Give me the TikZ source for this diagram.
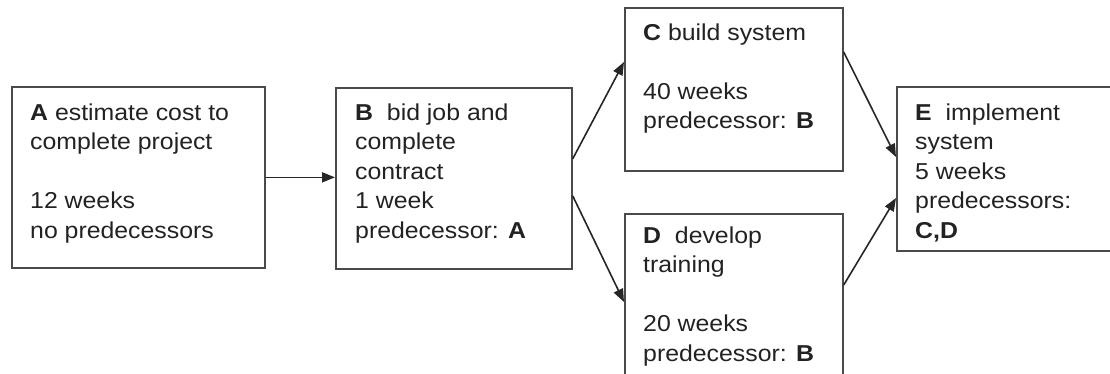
\documentclass[tikz,border=0pt]{standalone}
\usepackage{fontspec}
\setmainfont{Liberation Sans}[FakeStretch=1.08]
\usetikzlibrary{arrows.meta}
\definecolor{boxline}{HTML}{4A4A4A}
\definecolor{txt}{HTML}{222222}
\tikzset{
  box/.style={draw=boxline, line width=1.7pt, rectangle, inner sep=0pt, anchor=north west},
  lbl/.style={anchor=north west, inner sep=0pt, align=left, text=txt,
    font=\fontsize{23pt}{29.5pt}\selectfont},
  arr/.style={draw=black!85, line width=1.6pt, -{Triangle[length=13pt,width=10pt]}}
}
\begin{document}
\begin{tikzpicture}[x=1pt,y=-1pt]
\useasboundingbox (0,0) rectangle (1110,374);
\clip (0,0) rectangle (1110,374);
\node[box, minimum width=253pt, minimum height=181pt] (A) at (11,86) {};
\node[box, minimum width=236pt, minimum height=181pt] (B) at (335,87) {};
\node[box, minimum width=218pt, minimum height=163pt] (C) at (624,7) {};
\node[box, minimum width=218pt, minimum height=200pt] (D) at (624,213) {};
\node[box, minimum width=300pt, minimum height=164pt] (E) at (896,86) {};

\node[lbl] (At) at (30,103.5) {\textbf{A} estimate cost to\\complete project\\ \mbox{}\\12 weeks\\no predecessors};
\node[lbl] (Bt) at (355,103.5) {\textbf{B}\ \ bid job and\\complete\\contract\\1 week\\predecessor: \textbf{A}};
\node[lbl] (Ct) at (643,23.5) {\textbf{C} build system\\ \mbox{}\\40 weeks\\predecessor: \textbf{B}};
\node[lbl] (Dt) at (643,226.5) {\textbf{D}\ \ develop\\training\\ \mbox{}\\20 weeks\\predecessor: \textbf{B}};
\node[lbl] (Et) at (915,103.5) {\textbf{E}\ \ implement\\system\\5 weeks\\predecessors:\\\textbf{C,D}};

\draw[arr] (A.east) -- (B.west |- A.east);
\draw[arr] ([yshift=19.5pt]B.east) -- ([yshift=-55pt]C.north west);
\draw[arr] ([yshift=-17.5pt]B.east) -- ([yshift=-89pt]D.north west);
\draw[arr] ([yshift=-45pt]C.north east) -- ([yshift=-71pt]E.north west);
\draw[arr] ([yshift=-72pt]D.north east) -- ([yshift=-112pt]E.north west);
\end{tikzpicture}
\end{document}
